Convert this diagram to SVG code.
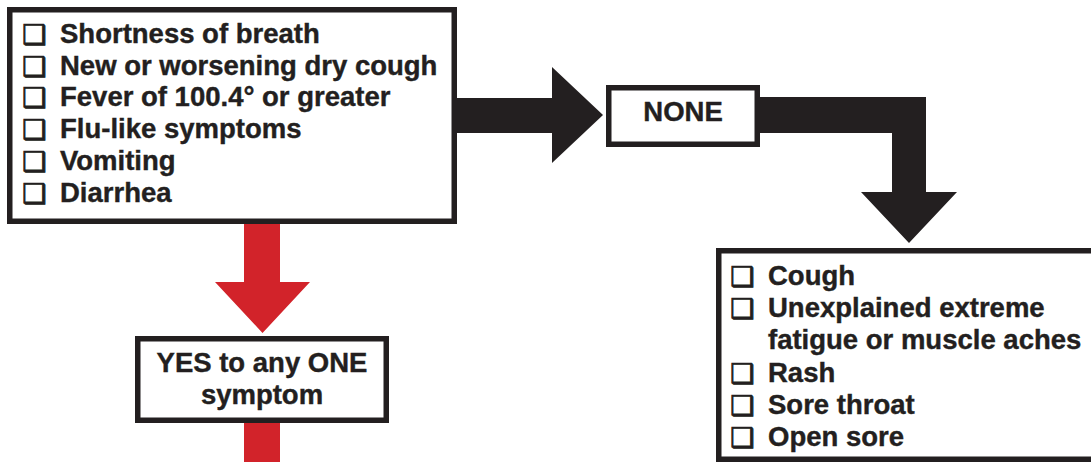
<svg xmlns="http://www.w3.org/2000/svg" width="1091" height="462" viewBox="0 0 1091 462">
<style>
.box{fill:#fff;stroke:#231f20;stroke-width:5.5}
.t{font-family:"Liberation Sans",Arial,sans-serif;font-weight:bold;font-size:27.5px;fill:#231f20;stroke:#231f20;stroke-width:0.4}
.cb{font-family:"DejaVu Sans",sans-serif;font-weight:bold;font-size:27px;fill:#231f20;stroke:#231f20;stroke-width:0.9}
.mid{text-anchor:middle}
.blk{fill:#231f20}
.red{fill:#d2232a}
</style>
<rect width="1091" height="462" fill="#fff"/>
<g id="connectors">
<polygon class="red" points="244,222 280,222 280,282 310,282 262.5,333 215,282 244,282"/>
<rect class="red" x="244" y="421" width="36" height="45"/>
<polygon class="blk" points="455,98 552,98 552,67 603,115 552,163 552,133 455,133"/>
<polygon class="blk" points="758,97 926,97 926,192 957,192 909,243 861,192 892,192 892,133 758,133"/>
</g>
<g id="symptoms">
<rect class="box" x="9.75" y="9.75" width="444.5" height="211.5"/>
<text class="cb" x="22" y="44">❑</text>
<text class="cb" x="22" y="75.5">❑</text>
<text class="cb" x="22" y="107">❑</text>
<text class="cb" x="22" y="139">❑</text>
<text class="cb" x="22" y="171">❑</text>
<text class="cb" x="22" y="203">❑</text>
<text class="t" x="60" y="43">Shortness of breath</text>
<text class="t" x="60" y="74.5">New or worsening dry cough</text>
<text class="t" x="60" y="106">Fever of 100.4° or greater</text>
<text class="t" x="60" y="138">Flu-like symptoms</text>
<text class="t" x="60" y="170">Vomiting</text>
<text class="t" x="60" y="202">Diarrhea</text>
</g>
<g id="none">
<rect class="box" x="608.75" y="87.75" width="148.5" height="56.5"/>
<text class="t mid" x="683" y="121">NONE</text>
</g>
<g id="yes">
<rect class="box" x="137.75" y="338.75" width="248.5" height="81.5"/>
<text class="t mid" x="262" y="372">YES to any ONE</text>
<text class="t mid" x="262" y="404">symptom</text>
</g>
<g id="other">
<rect class="box" x="718.75" y="250.75" width="400" height="208.5"/>
<text class="cb" x="730" y="286">❑</text>
<text class="cb" x="730" y="318">❑</text>
<text class="cb" x="730" y="383">❑</text>
<text class="cb" x="730" y="415">❑</text>
<text class="cb" x="730" y="447">❑</text>
<text class="t" x="768" y="285">Cough</text>
<text class="t" x="768" y="317">Unexplained extreme</text>
<text class="t" x="768" y="349">fatigue or muscle aches</text>
<text class="t" x="768" y="382">Rash</text>
<text class="t" x="768" y="414">Sore throat</text>
<text class="t" x="768" y="446">Open sore</text>
</g>
</svg>
